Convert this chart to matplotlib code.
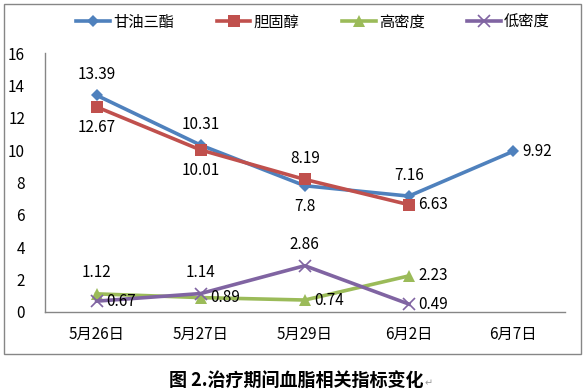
import matplotlib
matplotlib.use("Agg")
import matplotlib.pyplot as plt
from matplotlib.patches import Rectangle
import numpy as np

plt.rcParams['font.family'] = ['Noto Sans CJK SC', 'DejaVu Sans']

categories = ["5月26日", "5月27日", "5月29日", "6月2日", "6月7日"]
tg = [13.39, 10.31, 7.8, 7.16, 9.92]
chol = [12.67, 10.01, 8.19, 6.63, None]
hdl = [1.12, 0.89, 0.74, 2.23, None]
ldl = [0.67, 1.14, 2.86, 0.49, None]
series_names = ["甘油三酯", "胆固醇", "高密度", "低密度"]
yticks = [0, 2, 4, 6, 8, 10, 12, 14, 16]

colors = ["#4F81BD", "#C0504D", "#9BBB59", "#8064A2"]
markers = ["D", "s", "^", "x"]
msizes = [6, 9, 8, 8]

# label placement: 'a' above, 'b' below, 'r' right
label_pos = [
    ['a', 'a', 'b', 'a', 'r'],
    ['b', 'b', 'a', 'r', None],
    ['a', 'r', 'r', 'r', None],
    ['r', 'a', 'a', 'r', None],
]

W, H = 584, 392
fig = plt.figure(figsize=(W / 100, H / 100), dpi=100)
ax = fig.add_axes([44.5 / W, 1 - 312 / H, (565 - 44.5) / W, (312 - 53) / H])

x = np.arange(len(categories))
all_series = [tg, chol, hdl, ldl]
handles = []
for s, name, c, m, ms in zip(all_series, series_names, colors, markers, msizes):
    xs = [xi for xi, v in zip(x, s) if v is not None]
    ys = [v for v in s if v is not None]
    mew = 1.2 if m == 'x' else 0
    h, = ax.plot(xs, ys, color=c, lw=2.6, marker=m, markersize=ms,
                 markeredgewidth=mew, markeredgecolor=c, label=name)
    handles.append(h)

for s, pos in zip(all_series, label_pos):
    for xi, v, p in zip(x, s, pos):
        if v is None:
            continue
        txt = f"{v:g}"
        if p == 'a':
            ax.annotate(txt, (xi, v), xytext=(0, 9), textcoords='offset points',
                        ha='center', va='bottom', fontsize=11)
        elif p == 'b':
            ax.annotate(txt, (xi, v), xytext=(0, -9), textcoords='offset points',
                        ha='center', va='top', fontsize=11)
        else:
            ax.annotate(txt, (xi, v), xytext=(7, 0), textcoords='offset points',
                        ha='left', va='center', fontsize=11)

ax.set_xlim(-0.5, len(categories) - 0.5)
ax.set_ylim(0, 16)
ax.set_yticks(yticks)
ax.set_yticklabels([str(t) for t in yticks], fontsize=11)
ax.set_xticks(x)
ax.set_xticklabels(categories, fontsize=11)
ax.tick_params(axis='both', length=0)
ax.tick_params(axis='y', pad=14)
ax.tick_params(axis='x', pad=10)
for sp in ['top', 'right']:
    ax.spines[sp].set_visible(False)
for sp in ['left', 'bottom']:
    ax.spines[sp].set_color('#868686')
    ax.spines[sp].set_linewidth(1)

leg = fig.legend(handles=handles, labels=series_names, loc='center',
                 bbox_to_anchor=(313 / W, 1 - 22 / H), ncol=4, frameon=False,
                 fontsize=11, handlelength=2.2, columnspacing=2.8,
                 handletextpad=0.2)

fig.patches.append(Rectangle((3.5 / W, 1 - 353.5 / H), 577 / W, 350 / H,
                             transform=fig.transFigure, fill=False,
                             edgecolor='#868686', lw=1))

cap = fig.text(296 / W, 1 - 380 / H, "图 2.治疗期间血脂相关指标变化", ha='center',
               va='center', fontsize=13, fontweight='bold')
fig.canvas.draw()
bb = cap.get_window_extent()
fig.text((bb.x1 + 1) / W, (bb.y0 + 1) / H, "↵", ha='left', va='bottom',
         fontsize=7, color='#999999', family=['DejaVu Sans'])

fig.savefig("out.png", dpi=100)
